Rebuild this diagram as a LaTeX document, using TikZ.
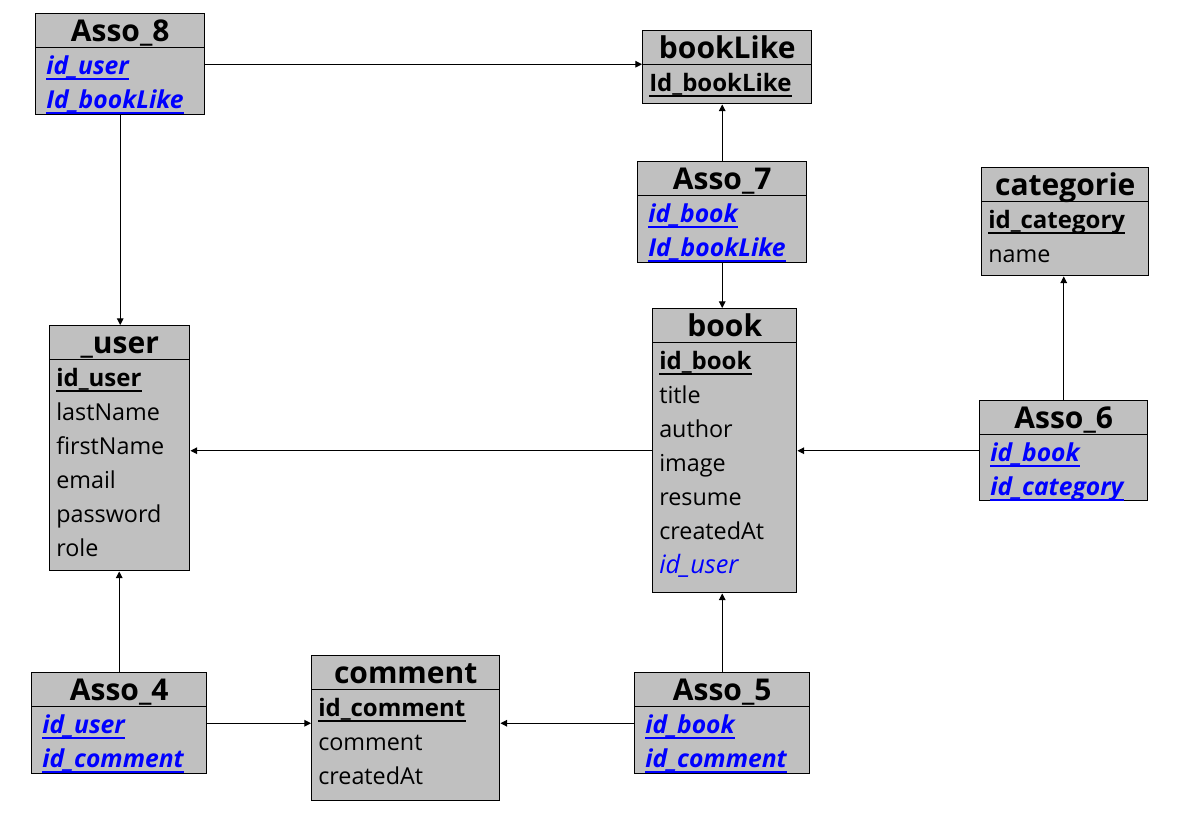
\documentclass[tikz,border=0pt]{standalone}
\usepackage{fontspec}
\setmainfont{Open Sans}
\usetikzlibrary{arrows.meta,positioning}
\newdimen\px \px=0.75pt
\definecolor{boxgray}{RGB}{192,192,192}
\definecolor{keyblue}{RGB}{0,0,255}
\tikzset{
    % Define style for tables
    tabl/.style={
           rectangle,
           draw=black, line width=1.1pt,
           fill=boxgray,
           anchor=north west,
           inner sep=0pt},
    % Define style for table names
    titl/.style={
           anchor=base,
           inner sep=0pt,
           font=\fontsize{22.5}{26}\selectfont\bfseries},
    % Define styles for fields
    fld/.style={anchor=base west, inner sep=0pt, font=\fontsize{17.5}{20}\selectfont},
    pk/.style={fld, font=\fontsize{18}{21}\selectfont\bfseries},
    fk/.style={fld, xshift=4*\px, text=keyblue, font=\fontsize{18.5}{21}\selectfont\bfseries\itshape},
    ref/.style={fld, text=keyblue, font=\fontsize{19}{22}\selectfont\itshape},
    % Define arrow style
    pil/.style={
           -{Triangle[length=5pt,width=5pt]},
           line width=0.75pt}
}
% table: name, x, y, width, height, title
\newcommand*{\tnode}[6]{%
  \node[tabl, minimum width=#4*\px, minimum height=#5*\px] (#1) at (#2,#3) {};
  \node[titl] (#1-t) at ([yshift=-28*\px]#1.north) {#6};
  \draw[line width=0.75pt] ([yshift=-34*\px]#1.north west) -- ([yshift=-34*\px]#1.north east);}
% field: table, row, style, text
\newcommand*{\frow}[4]{\node[#3] (#1-#2) at ([xshift=7*\px, yshift=-(61+34*(#2-1))*\px]#1.north west) {#4};}
% underlined key field: table, row, style, text, colour
\newcommand*{\krow}[5]{\frow{#1}{#2}{#3}{#4}
  \draw[#5, line width=1.1pt] ([yshift=-5*\px]#1-#2.base west) -- ([yshift=-5*\px]#1-#2.base east);}

\begin{document}
\begin{tikzpicture}[x=\px, y=-\px]
\useasboundingbox (0,0) rectangle (1181,818);

% Tables
\tnode{asso8}{35}{13}{169}{101}{Asso\_8}
\krow{asso8}{1}{fk}{id\_user}{keyblue}
\krow{asso8}{2}{fk}{Id\_bookLike}{keyblue}

\tnode{booklike}{642}{30}{169}{73}{bookLike}
\krow{booklike}{1}{pk}{Id\_bookLike}{black}

\tnode{asso7}{637}{161}{169}{101}{Asso\_7}
\krow{asso7}{1}{fk}{id\_book}{keyblue}
\krow{asso7}{2}{fk}{Id\_bookLike}{keyblue}

\tnode{categorie}{981}{167}{167}{108}{categorie}
\krow{categorie}{1}{pk}{id\_category}{black}
\frow{categorie}{2}{fld}{name}

\tnode{user}{49}{325}{140}{245}{\_user}
\krow{user}{1}{pk}{id\_user}{black}
\frow{user}{2}{fld}{lastName}
\frow{user}{3}{fld}{firstName}
\frow{user}{4}{fld}{email}
\frow{user}{5}{fld}{password}
\frow{user}{6}{fld}{role}

\tnode{book}{652}{308}{144}{284}{book}
\krow{book}{1}{pk}{id\_book}{black}
\frow{book}{2}{fld}{title}
\frow{book}{3}{fld}{author}
\frow{book}{4}{fld}{image}
\frow{book}{5}{fld}{resume}
\frow{book}{6}{fld}{createdAt}
\frow{book}{7}{ref}{id\_user}

\tnode{asso6}{979}{400}{168}{100}{Asso\_6}
\krow{asso6}{1}{fk}{id\_book}{keyblue}
\krow{asso6}{2}{fk}{id\_category}{keyblue}

\tnode{asso4}{31}{672}{175}{101}{Asso\_4}
\krow{asso4}{1}{fk}{id\_user}{keyblue}
\krow{asso4}{2}{fk}{id\_comment}{keyblue}

\tnode{comment}{311}{655}{188}{145}{comment}
\krow{comment}{1}{pk}{id\_comment}{black}
\frow{comment}{2}{fld}{comment}
\frow{comment}{3}{fld}{createdAt}

\tnode{asso5}{634}{672}{175}{101}{Asso\_5}
\krow{asso5}{1}{fk}{id\_book}{keyblue}
\krow{asso5}{2}{fk}{id\_comment}{keyblue}

% Now connect the tables
\draw[pil] (asso8.east) -- (asso8.east -| booklike.west);
\draw[pil] (asso8.south) -- (asso8.south |- user.north);
\draw[pil] (asso7.north) -- (asso7.north |- booklike.south);
\draw[pil] (asso7.south) -- (asso7.south |- book.north);
\draw[pil] (asso6.north) -- (asso6.north |- categorie.south);
\draw[pil] (asso6.west) -- (asso6.west -| book.east);
\draw[pil] (book.west) -- (book.west -| user.east);
\draw[pil] (asso4.north) -- (asso4.north |- user.south);
\draw[pil] (asso4.east) -- (asso4.east -| comment.west);
\draw[pil] (asso5.west) -- (asso5.west -| comment.east);
\draw[pil] (asso5.north) -- (asso5.north |- book.south);
\end{tikzpicture}
\end{document}
